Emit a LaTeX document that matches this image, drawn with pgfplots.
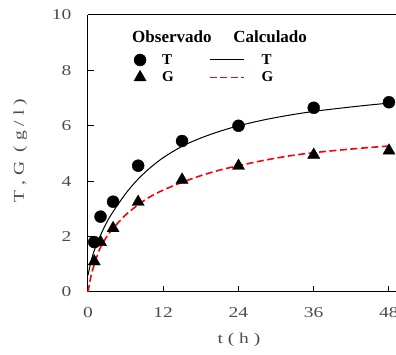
\documentclass[border=0pt]{standalone}
\usepackage{fontspec}
\setmainfont{Liberation Serif}
\newfontfamily\widefont[FakeStretch=1.3]{Liberation Serif}
\usepackage{pgfplots}
\pgfplotsset{compat=1.18}
\definecolor{lbl}{gray}{0.3}
\pgfplotsset{
  markleg/.style={legend image code/.code={\path[draw=none] (0pt,0pt) -- (30pt,0pt); \draw[##1] plot coordinates {(10pt,0pt)};}},
  lineleg/.style={legend image code/.code={\path[draw=none] (0pt,0pt) -- (50pt,0pt); \draw[##1] (0pt,0pt) -- (34pt,0pt);}},
}
\begin{document}
\begin{tikzpicture}
\useasboundingbox (0,0) rectangle (396pt,355pt);
\begin{axis}[
  at={(88pt,63pt)}, anchor=south west,
  scale only axis, width=308pt, height=277pt,
  xmin=0, xmax=49.12, ymin=0, ymax=10,
  axis x line*=box, axis y line*=left,
  xtick pos=bottom, ytick pos=left,
  xtick={0,12,24,36,48}, ytick={0,2,4,6,8,10},
  tick align=inside, major tick length=6pt,
  every tick/.style={black, line width=1pt},
  axis line style={line width=1pt},
  /pgf/number format/assume math mode=true,
  tick label style={font=\widefont\fontsize{15}{17}\selectfont, text=lbl},
  xticklabel style={yshift=-12pt},
  yticklabel style={xshift=-13pt},
  xlabel={t ( h )}, ylabel={T , G \ ( g / l )},
  label style={font=\widefont\fontsize{15}{17}\selectfont, text=lbl},
  xlabel style={at={(axis description cs:0.49,-0.173)}, anchor=center},
  ylabel style={at={(axis description cs:-0.22,0.51)}, anchor=center},
  clip=false,
  legend columns=2,
  legend cell align=left,
  legend style={at={(axis description cs:0.136,0.866)}, anchor=north west,
    draw=none, fill=none, inner sep=0pt,
    font=\bfseries\fontsize{15}{17}\selectfont,
    row sep=2pt,
    /tikz/every even column/.append style={column sep=33pt}},
]
\addplot[only marks, mark=*, mark size=6pt, black, markleg]
  coordinates {(1,1.8) (2,2.72) (4,3.26) (8,4.56) (15,5.45) (24,6.0) (36,6.65) (48,6.85)};
\addlegendentry{T}
\addplot[black, line width=1pt, smooth, lineleg]
  coordinates {(0,0.6) (0.5,1.12) (1,1.5) (2,2.05) (3,2.52) (4,2.9) (6,3.55) (8,4.08) (10,4.5) (12,4.85) (15,5.26) (18,5.56) (21,5.8) (24,6.0) (28,6.21) (32,6.38) (36,6.52) (40,6.63) (44,6.73) (48,6.82)};
\addlegendentry{T}
\addplot[only marks, mark=triangle*, mark size=7pt, black, markleg]
  coordinates {(1,1.1) (2,1.8) (4,2.3) (8,3.25) (15,4.05) (24,4.55) (36,4.95) (48,5.1)};
\addlegendentry{G}
\addplot[red, line width=1.6pt, smooth, dash pattern=on 7pt off 3.5pt, lineleg]
  coordinates {(0,0) (0.5,0.6) (1,1.0) (1.5,1.33) (2,1.62) (3,2.0) (4,2.3) (6,2.78) (8,3.15) (10,3.45) (12,3.68) (15,3.96) (18,4.2) (21,4.4) (24,4.56) (28,4.75) (32,4.91) (36,5.03) (40,5.12) (44,5.2) (48,5.27)};
\addlegendentry{G}
\node[anchor=west, font=\bfseries\fontsize{17}{19}\selectfont, inner sep=0pt] at (axis description cs:0.143,0.92) {Observado};
\node[anchor=west, font=\bfseries\fontsize{17}{19}\selectfont, inner sep=0pt] at (axis description cs:0.471,0.92) {Calculado};
\end{axis}
\end{tikzpicture}
\end{document}
